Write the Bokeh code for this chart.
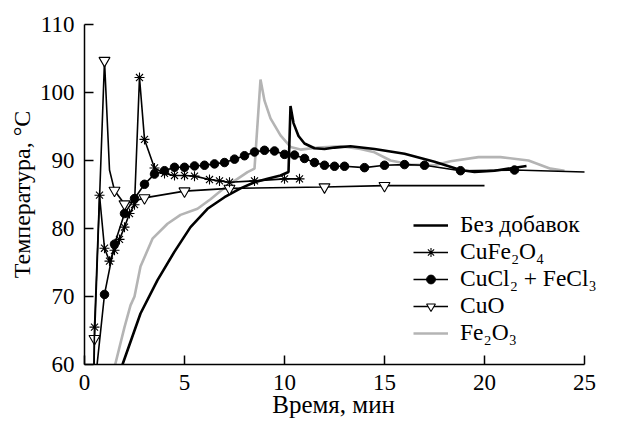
from bokeh.plotting import figure
from bokeh.models import Range1d, Legend, LegendItem, FixedTicker
from bokeh.embed import file_html
from bokeh.resources import INLINE

# ---- data (time in min, temperature in °C) ----
bd_t = [1.9, 2.8, 3.65, 4.5, 5.3, 6.15, 7.0, 7.8, 8.5, 9.15, 9.8, 10.2, 10.3, 10.45, 10.7, 11.0, 11.5, 12.0, 12.5, 13.3, 14.5, 16.0, 17.5, 18.8, 19.5, 20.5, 22.1]
bd_T = [60.0, 67.5, 72.4, 76.6, 80.2, 82.9, 84.6, 85.9, 86.8, 87.3, 87.8, 88.3, 98.0, 95.5, 93.6, 92.5, 91.8, 91.7, 91.9, 92.1, 91.7, 91.0, 89.8, 88.6, 88.3, 88.5, 89.2]

cf_t = [0.4, 0.5, 0.75, 1.0, 1.25, 1.5, 1.75, 2.0, 2.25, 2.5, 2.75, 3.0, 3.5, 4.0, 4.5, 5.0, 5.5, 6.25, 6.75, 7.25, 8.5, 10.0, 10.75]
cf_T = [45.0, 65.5, 84.9, 77.1, 75.2, 76.8, 78.4, 80.2, 82.2, 83.5, 102.2, 93.1, 88.9, 88.1, 87.8, 87.8, 87.7, 87.2, 87.0, 86.8, 87.0, 87.3, 87.3]
cf_mark = [False] + [True] * 22

cc_t = [0.5, 1.0, 1.5, 2.0, 2.5, 3.0, 3.5, 4.0, 4.5, 5.0, 5.5, 6.0, 6.5, 7.0, 7.5, 8.0, 8.5, 9.0, 9.5, 10.0, 10.5, 11.0, 11.5, 12.0, 12.5, 13.0, 14.0, 15.0, 16.0, 17.0, 18.8, 21.5, 25.0]
cc_T = [56.4, 70.3, 77.7, 82.2, 84.4, 86.5, 88.0, 88.5, 89.0, 89.0, 89.2, 89.3, 89.5, 89.7, 90.2, 90.7, 91.25, 91.5, 91.4, 90.9, 90.8, 90.3, 89.7, 89.3, 89.15, 89.15, 88.95, 89.3, 89.4, 89.3, 88.5, 88.6, 88.3]
cc_mark = [False] + [True] * 31 + [False]

cuo_t = [0.4, 0.5, 1.0, 1.25, 1.5, 2.0, 3.0, 5.0, 7.25, 12.0, 15.0, 20.0]
cuo_T = [45.0, 63.8, 104.7, 88.6, 85.6, 83.6, 84.5, 85.5, 85.9, 86.1, 86.3, 86.3]
cuo_mark = [False, True, True, False, True, True, True, True, True, True, True, False]

fe_t = [1.45, 2.0, 2.3, 2.5, 2.8, 3.4, 4.15, 4.8, 5.65, 6.3, 7.0, 7.5, 8.15, 8.5, 8.8, 9.0, 9.3, 9.8, 10.3, 10.8, 11.7, 12.8, 13.8, 14.5, 15.3, 16.3, 17.5, 18.3, 19.7, 20.8, 22.2, 23.3, 24.0]
fe_T = [59.0, 65.5, 68.7, 70.0, 74.4, 78.5, 80.7, 82.0, 82.9, 84.3, 86.0, 87.0, 88.3, 88.8, 101.9, 98.8, 96.2, 93.7, 92.0, 91.6, 91.9, 92.1, 91.7, 91.2, 90.0, 89.4, 89.3, 89.9, 90.5, 90.5, 90.0, 88.8, 88.5]

labels = ["Без добавок", "CuFe₂O₄", "CuCl₂ + FeCl₃", "CuO", "Fe₂O₃"]
x_ticks = [0, 5, 10, 15, 20, 25]
y_ticks = [60, 70, 80, 90, 100, 110]

FONT = "Liberation Serif"

p = figure(width=626, height=430, output_backend="svg", toolbar_location=None,
           x_range=Range1d(0, 27.1), y_range=Range1d(60, 110),
           min_border_left=84, min_border_right=0, min_border_top=24, min_border_bottom=66)
p.grid.visible = False
p.outline_line_color = None
p.background_fill_color = "white"
p.border_fill_color = "white"

for ax in (p.xaxis[0], p.yaxis[0]):
    ax.axis_line_width = 1.5
    ax.axis_line_color = "black"
    ax.major_tick_in = 9
    ax.major_tick_out = 0
    ax.major_tick_line_width = 1.5
    ax.minor_tick_line_color = None
    ax.major_label_text_font = FONT
    ax.major_label_text_font_size = "23px"
    ax.major_label_text_color = "black"
    ax.axis_label_text_font = FONT
    ax.axis_label_text_font_size = "24px"
    ax.axis_label_text_font_style = "normal"
    ax.axis_label_text_color = "black"

p.xaxis[0].ticker = FixedTicker(ticks=x_ticks)
p.yaxis[0].ticker = FixedTicker(ticks=y_ticks)
p.xaxis[0].bounds = (0, 25)
p.xaxis[0].axis_label = "Время, мин" + "\u00a0" * 7
p.xaxis[0].axis_label_text_font_size = "25px"
p.yaxis[0].axis_label = "Температура, °C"
p.xaxis[0].major_label_standoff = 10
p.yaxis[0].major_label_standoff = 10
p.xaxis[0].axis_label_standoff = -2
p.yaxis[0].axis_label_standoff = 2

def sel(xs, ys, m):
    return [x for x, k in zip(xs, m) if k], [y for y, k in zip(ys, m) if k]

gray = "#b4b4b4"
r_fe = p.line(fe_t, fe_T, line_color=gray, line_width=2.6)
r_bd = p.line(bd_t, bd_T, line_color="black", line_width=2.6)

r_cuo = p.line(cuo_t, cuo_T, line_color="black", line_width=1.6)
mx, my = sel(cuo_t, cuo_T, cuo_mark)
r_cuo_m = p.scatter(mx, my, marker="inverted_triangle", size=11, fill_color="white",
                    line_color="black", line_width=1.1)

r_cf = p.line(cf_t, cf_T, line_color="black", line_width=1.6)
mx, my = sel(cf_t, cf_T, cf_mark)
r_cf_m = p.scatter(mx, my, marker="asterisk", size=10, line_color="black", line_width=1.1)

r_cc = p.line(cc_t, cc_T, line_color="black", line_width=1.6)
mx, my = sel(cc_t, cc_T, cc_mark)
r_cc_m = p.scatter(mx, my, marker="circle", size=8.5, fill_color="black", line_color="black")

legend = Legend(items=[
    LegendItem(label=labels[0], renderers=[r_bd]),
    LegendItem(label=labels[1], renderers=[r_cf, r_cf_m]),
    LegendItem(label=labels[2], renderers=[r_cc, r_cc_m]),
    LegendItem(label=labels[3], renderers=[r_cuo, r_cuo_m]),
    LegendItem(label=labels[4], renderers=[r_fe]),
], location=(329, 18))
legend.label_text_font = FONT
legend.label_text_font_size = "23.5px"
legend.label_text_color = "black"
legend.glyph_width = 35
legend.glyph_height = 22
legend.label_height = 22
legend.label_standoff = 12
legend.spacing = 0
legend.padding = 0
legend.margin = 0
legend.border_line_alpha = 0
legend.background_fill_alpha = 0
p.add_layout(legend)

open("out.html", "w").write(file_html(p, INLINE))
